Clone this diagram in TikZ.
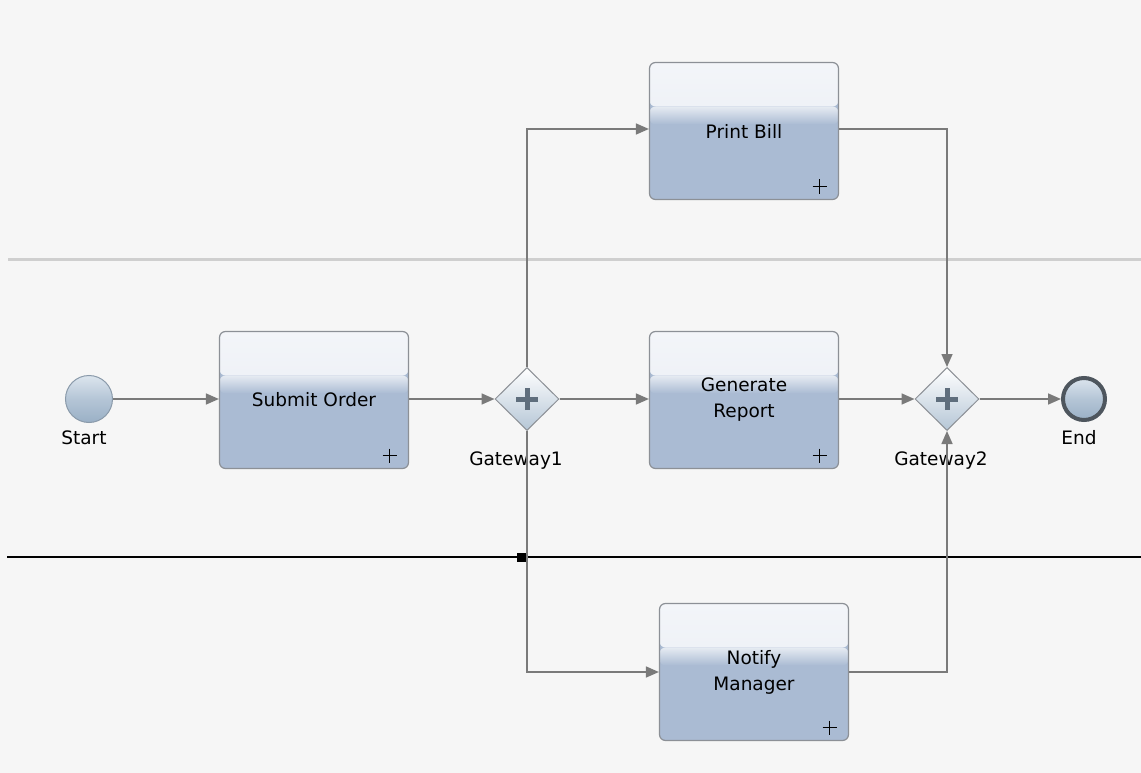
\documentclass[tikz,border=0pt]{standalone}
\usepackage{fontspec}
\setmainfont{DejaVu Sans}
\usetikzlibrary{arrows.meta,shapes.geometric}
\definecolor{bg}{HTML}{F6F6F6}
\definecolor{taskblue}{HTML}{AABBD3}
\definecolor{taskwhite}{HTML}{F3F5F9}
\definecolor{taskmid}{HTML}{E6EBF2}
\definecolor{taskedge}{HTML}{8C9096}
\definecolor{flowc}{HTML}{7A7A7A}
\definecolor{plusc}{HTML}{5F6E7D}
\definecolor{lanegray}{HTML}{CFCFCF}
\definecolor{evtop}{HTML}{DCE5EE}
\definecolor{evbot}{HTML}{9AB0C6}
\definecolor{evedge}{HTML}{8A9AAA}
\definecolor{endedge}{HTML}{4E565E}
\definecolor{gwbot}{HTML}{B5C6D6}
\newcommand{\lblfont}{\fontsize{18.5}{26}\selectfont}
\tikzset{
  task/.style={rectangle, rounded corners=6pt, minimum width=189pt, minimum height=137pt,
    draw=taskedge, line width=1.2pt, fill=taskblue, align=center, inner sep=0pt, font=\lblfont,
    path picture={
      \shade[top color=taskwhite, bottom color=taskmid] (path picture bounding box.north west) rectangle ([yshift=-44pt]path picture bounding box.north east);
      \shade[top color=taskmid, bottom color=taskblue] ([yshift=-44pt]path picture bounding box.north west) rectangle ([yshift=-62pt]path picture bounding box.north east);
      \draw[black, line width=1.4pt] ([xshift=-26pt,yshift=13pt]path picture bounding box.south east) -- ++(14pt,0pt);
      \draw[black, line width=1.4pt] ([xshift=-19pt,yshift=20pt]path picture bounding box.south east) -- ++(0pt,-14pt);
    }},
  gateway/.style={diamond, aspect=1, minimum width=64pt, minimum height=63pt, inner sep=0pt,
    draw=taskedge, line width=1pt, top color=white, bottom color=gwbot,
    path picture={
      \draw[plusc, line width=5pt] ([xshift=-11pt]path picture bounding box.center) -- ++(22pt,0pt);
      \draw[plusc, line width=5pt] ([yshift=-11pt]path picture bounding box.center) -- ++(0pt,22pt);
    }},
  startev/.style={circle, minimum size=47pt, inner sep=0pt, draw=evedge, line width=1pt,
    top color=evtop, bottom color=evbot, middle color=evbot!60!evtop},
  endev/.style={circle, minimum size=42pt, inner sep=0pt, draw=endedge, line width=4pt,
    top color=evtop, bottom color=evbot, middle color=evbot!60!evtop},
  lbl/.style={font=\lblfont, inner sep=0pt},
  flow/.style={draw=flowc, line width=1.6pt, -{Triangle[length=13pt,width=11pt]}},
  lane/.style={draw=lanegray, line width=3pt},
  pool/.style={draw=black, line width=2.8pt},
}
\begin{document}
\begin{tikzpicture}[x=1pt,y=-1pt]
\useasboundingbox (0,0) rectangle (1141,773);
\fill[bg] (0,0) rectangle (1141,773);

% lanes
\coordinate (laneA) at (8,259);
\coordinate (laneB) at (1141,259);
\coordinate (poolA) at (7,557);
\coordinate (poolB) at (1141,557);
\draw[lane] (laneA) -- (laneB);
\draw[pool] (poolA) -- (poolB);

% nodes
\node[startev] (start) at (89,399) {};
\node[lbl] (startlbl) at (84,438) {Start};
\node[task] (submit) at (314,400) {Submit Order};
\node[gateway] (gw1) at (527,399) {};
\node[lbl] (gw1lbl) at (516,461) {Gateway1};
\node[task] (print) at (744,131) {Print Bill};
\node[task] (report) at (744,400) {Generate\\Report};
\node[task] (notify) at (754,672) {Notify\\Manager};
\node[gateway] (gw2) at (947,399) {};
\node[lbl] (gw2lbl) at (941,461) {Gateway2};
\node[endev] (end) at (1084,399) {};
\node[lbl] (endlbl) at (1079,438) {End};

% connectors
\draw[flow] (start) -- (submit.west |- start);
\draw[flow] (submit.east |- gw1) -- (gw1.west);
\draw[flow] (gw1.east) -- (report.west |- gw1);
\draw[flow] (report.east |- gw2) -- (gw2.west);
\draw[flow] (gw2.east) -- (end.west);
\draw[flow] (gw1.north) |- ([yshift=2pt]print.west);
\draw[flow] ([yshift=2pt]print.east) -| (gw2.north);
\draw[flow] (gw1.south) |- (notify.west);
\draw[flow] (notify.east) -| (gw2.south);

\node[fill=black, minimum size=9pt, inner sep=0pt] (junction) at (521,557) {};
\end{tikzpicture}
\end{document}
